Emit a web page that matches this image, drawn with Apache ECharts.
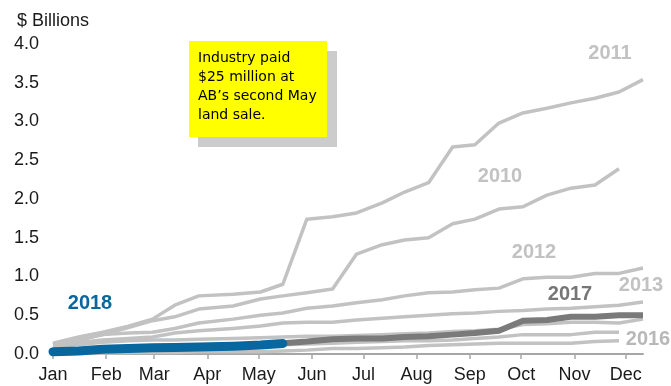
<!DOCTYPE html>
<html>
<head>
<meta charset="utf-8">
<script src="https://cdn.jsdelivr.net/npm/echarts@6/dist/echarts.min.js"></script>
<style>
  html, body { margin: 0; padding: 0; background: #ffffff; }
  #chart { width: 671px; height: 386px; }
</style>
</head>
<body>
<div id="chart"></div>
<script>
// Alberta land sale dates (month-day), roughly every two weeks
const saleDates = ['01-01','01-16','01-30','02-14','02-28','03-13','03-27','04-16','05-02','05-15',
                   '05-29','06-13','06-27','07-12','07-25','08-08','08-22','09-04','09-18','10-02',
                   '10-16','10-30','11-13','11-27','12-11'];

const monthLabels = ['Jan','Feb','Mar','Apr','May','Jun','Jul','Aug','Sep','Oct','Nov','Dec'];
const yTicks = [0, 0.5, 1, 1.5, 2, 2.5, 3, 3.5, 4];

// Cumulative land sale revenue, $ billions
const v2011 = [0.14,0.22,0.28,0.36,0.45,0.63,0.75,0.77,0.80,0.90,1.74,1.77,1.82,1.95,2.09,2.21,2.67,2.70,2.98,3.11,3.17,3.24,3.30,3.38,3.54];
const v2010 = [0.12,0.18,0.25,0.34,0.43,0.48,0.58,0.62,0.71,0.75,0.79,0.84,1.29,1.41,1.47,1.50,1.68,1.74,1.87,1.90,2.05,2.14,2.18,2.39];
const v2012 = [0.12,0.18,0.25,0.27,0.28,0.33,0.40,0.45,0.50,0.53,0.59,0.62,0.66,0.70,0.75,0.79,0.80,0.83,0.85,0.97,0.99,0.99,1.04,1.04,1.11];
const v2013 = [0.12,0.15,0.18,0.20,0.22,0.27,0.30,0.33,0.36,0.40,0.41,0.41,0.44,0.46,0.48,0.50,0.52,0.53,0.55,0.56,0.58,0.59,0.61,0.63,0.67];
const v2014 = [0.09,0.12,0.15,0.17,0.18,0.18,0.19,0.20,0.21,0.22,0.23,0.23,0.24,0.25,0.26,0.27,0.29,0.30,0.32,0.38,0.39,0.41,0.41,0.40,0.45];
const v2015 = [0.05,0.06,0.07,0.08,0.09,0.09,0.10,0.10,0.11,0.12,0.13,0.14,0.15,0.16,0.17,0.17,0.18,0.20,0.22,0.25,0.25,0.25,0.28,0.28];
const v2016 = [0.00,0.01,0.01,0.02,0.02,0.02,0.03,0.03,0.03,0.04,0.05,0.07,0.07,0.08,0.09,0.11,0.12,0.13,0.14,0.14,0.14,0.14,0.16,0.17];
const v2017 = [0.03,0.04,0.06,0.07,0.08,0.09,0.10,0.11,0.12,0.14,0.16,0.19,0.20,0.20,0.22,0.23,0.25,0.27,0.30,0.43,0.44,0.48,0.48,0.50,0.50];
const v2018 = [0.03,0.04,0.06,0.07,0.08,0.085,0.09,0.10,0.115,0.135];

// x positions are days since 1 January of a common (non-leap) year
const BASE_YEAR = 2018;
const DAY = 86400000;
const dayOfYear = md => {
  const [m, d] = md.split('-').map(Number);
  return Math.round((Date.UTC(BASE_YEAR, m - 1, d) - Date.UTC(BASE_YEAR, 0, 1)) / DAY);
};
const pairs = vals => vals.map((v, i) => [dayOfYear(saleDates[i]), v]);
const monthStarts = monthLabels.map((_, i) => Math.round((Date.UTC(BASE_YEAR, i, 1) - Date.UTC(BASE_YEAR, 0, 1)) / DAY));

const FONT = "'Liberation Sans', Arial, Helvetica, sans-serif";
const LIGHT = '#c2c2c2';

const lightLine = (name, vals) => ({
  name, type: 'line', data: pairs(vals), showSymbol: false, silent: true,
  lineStyle: { color: LIGHT, width: 3.5, join: 'round' }, z: 2
});

const chart = echarts.init(document.getElementById('chart'), null, { renderer: 'canvas' });

chart.setOption({
  animation: false,
  backgroundColor: '#ffffff',
  grid: { left: 53, right: 28, top: 44, bottom: 32, containLabel: false },
  xAxis: {
    type: 'value',
    min: dayOfYear(saleDates[0]),
    max: dayOfYear(saleDates[saleDates.length - 1]),
    axisLine: { show: true, lineStyle: { color: '#a6a6a6', width: 2 } },
    axisTick: { show: true, customValues: monthStarts, length: 5, lineStyle: { color: '#a6a6a6', width: 1.5 } },
    axisLabel: {
      customValues: monthStarts,
      formatter: v => monthLabels[monthStarts.indexOf(Math.round(v))] || '',
      fontFamily: FONT, fontSize: 18, color: '#1a1a1a', margin: 12
    },
    splitLine: { show: false }
  },
  yAxis: {
    type: 'value',
    min: yTicks[0], max: yTicks[yTicks.length - 1], interval: 0.5,
    axisLine: { show: false },
    axisTick: { show: false },
    splitLine: { show: false },
    axisLabel: {
      formatter: v => v.toFixed(1),
      fontFamily: FONT, fontSize: 18, color: '#1a1a1a', margin: 14
    }
  },
  series: [
    lightLine('2016', v2016),
    lightLine('2015', v2015),
    lightLine('2014', v2014),
    lightLine('2013', v2013),
    lightLine('2012', v2012),
    lightLine('2010', v2010),
    lightLine('2011', v2011),
    {
      name: '2017', type: 'line', data: pairs(v2017), showSymbol: false, silent: true,
      lineStyle: { color: '#7a7a7a', width: 6, join: 'round' }, z: 3
    },
    {
      name: '2018', type: 'line', data: pairs(v2018), showSymbol: false, silent: true,
      lineStyle: { color: '#07679e', width: 9, cap: 'round', join: 'round' }, z: 4
    }
  ],
  graphic: [
    { type: 'text', left: 17, top: 12, style: { text: '$ Billions', font: `18px ${FONT}`, fill: '#1a1a1a' } },
    // series labels
    { type: 'text', x: 610, y: 53, style: { text: '2011', font: `bold 20px ${FONT}`, fill: '#c2c2c2', align: 'center', verticalAlign: 'middle' } },
    { type: 'text', x: 500, y: 176, style: { text: '2010', font: `bold 20px ${FONT}`, fill: '#c2c2c2', align: 'center', verticalAlign: 'middle' } },
    { type: 'text', x: 534, y: 252, style: { text: '2012', font: `bold 20px ${FONT}`, fill: '#c2c2c2', align: 'center', verticalAlign: 'middle' } },
    { type: 'text', x: 641, y: 285, style: { text: '2013', font: `bold 20px ${FONT}`, fill: '#c2c2c2', align: 'center', verticalAlign: 'middle' } },
    { type: 'text', x: 570, y: 294, style: { text: '2017', font: `bold 20px ${FONT}`, fill: '#767676', align: 'center', verticalAlign: 'middle' } },
    { type: 'text', x: 648, y: 339, style: { text: '2016', font: `bold 20px ${FONT}`, fill: '#b8b8b8', align: 'center', verticalAlign: 'middle' } },
    { type: 'text', x: 90, y: 303, style: { text: '2018', font: `bold 20px ${FONT}`, fill: '#07679e', align: 'center', verticalAlign: 'middle' } },
    // callout note with drop shadow
    { type: 'rect', shape: { x: 198, y: 51, width: 139, height: 96 }, style: { fill: '#cccccc' }, z: 10 },
    { type: 'rect', shape: { x: 189, y: 41, width: 138, height: 96 }, style: { fill: '#ffff00' }, z: 11 },
    {
      type: 'text', x: 198, y: 49, z: 12,
      style: {
        text: 'Industry paid\n$25 million at\nAB\u2019s second May\nland sale.',
        font: "14px 'Comic Sans MS', 'DejaVu Sans', sans-serif",
        lineHeight: 19, fill: '#000000', align: 'left', verticalAlign: 'top'
      }
    }
  ]
});
</script>
</body>
</html>
